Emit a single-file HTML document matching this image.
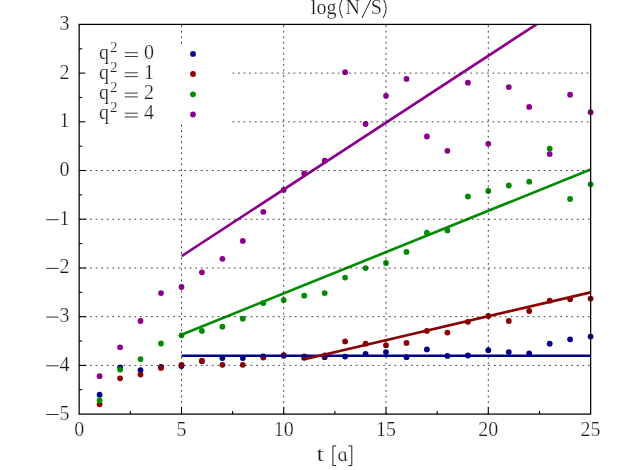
<!DOCTYPE html>
<html><head><meta charset="utf-8"><title>log(N/S)</title>
<style>html,body{margin:0;padding:0;background:#fff;}svg{display:block;}text{font-family:"Liberation Serif",serif;fill:#1c1c1c;stroke:#fff;stroke-width:0.22px;}</style></head>
<body>
<svg width="627" height="470" viewBox="0 0 627 470">
<rect x="0" y="0" width="627" height="470" fill="#ffffff"/>
<defs><clipPath id="cp"><rect x="79.15" y="24.4" width="511.5" height="389.7"/></clipPath></defs>
<g fill="#00008b"><circle cx="99.6" cy="394.7" r="2.9"/><circle cx="120.1" cy="367.3" r="2.9"/><circle cx="140.5" cy="370.1" r="2.9"/><circle cx="161.0" cy="366.9" r="2.9"/><circle cx="181.5" cy="366.0" r="2.9"/><circle cx="201.9" cy="361.0" r="2.9"/><circle cx="222.4" cy="358.0" r="2.9"/><circle cx="242.8" cy="358.0" r="2.9"/><circle cx="263.3" cy="356.4" r="2.9"/><circle cx="283.7" cy="355.7" r="2.9"/><circle cx="304.2" cy="357.8" r="2.9"/><circle cx="324.7" cy="357.2" r="2.9"/><circle cx="345.1" cy="356.6" r="2.9"/><circle cx="365.6" cy="354.0" r="2.9"/><circle cx="386.0" cy="352.1" r="2.9"/><circle cx="406.5" cy="357.2" r="2.9"/><circle cx="426.9" cy="349.4" r="2.9"/><circle cx="447.4" cy="355.9" r="2.9"/><circle cx="467.9" cy="355.5" r="2.9"/><circle cx="488.3" cy="350.2" r="2.9"/><circle cx="508.8" cy="352.1" r="2.9"/><circle cx="529.2" cy="353.4" r="2.9"/><circle cx="549.7" cy="343.7" r="2.9"/><circle cx="570.1" cy="339.3" r="2.9"/><circle cx="590.6" cy="336.6" r="2.9"/></g>
<g fill="#8b0000"><circle cx="99.6" cy="404.3" r="2.9"/><circle cx="120.1" cy="378.3" r="2.9"/><circle cx="140.5" cy="374.6" r="2.9"/><circle cx="161.0" cy="367.9" r="2.9"/><circle cx="181.5" cy="364.8" r="2.9"/><circle cx="201.9" cy="361.0" r="2.9"/><circle cx="222.4" cy="364.8" r="2.9"/><circle cx="242.8" cy="364.8" r="2.9"/><circle cx="263.3" cy="357.6" r="2.9"/><circle cx="283.7" cy="355.1" r="2.9"/><circle cx="304.2" cy="356.4" r="2.9"/><circle cx="324.7" cy="355.5" r="2.9"/><circle cx="345.1" cy="341.4" r="2.9"/><circle cx="365.6" cy="343.7" r="2.9"/><circle cx="386.0" cy="345.2" r="2.9"/><circle cx="406.5" cy="342.9" r="2.9"/><circle cx="426.9" cy="330.9" r="2.9"/><circle cx="447.4" cy="332.6" r="2.9"/><circle cx="467.9" cy="321.8" r="2.9"/><circle cx="488.3" cy="315.9" r="2.9"/><circle cx="508.8" cy="321.0" r="2.9"/><circle cx="529.2" cy="311.0" r="2.9"/><circle cx="549.7" cy="300.7" r="2.9"/><circle cx="570.1" cy="299.2" r="2.9"/><circle cx="590.6" cy="298.6" r="2.9"/></g>
<g fill="#008b00"><circle cx="99.6" cy="400.4" r="2.9"/><circle cx="120.1" cy="369.6" r="2.9"/><circle cx="140.5" cy="359.1" r="2.9"/><circle cx="161.0" cy="343.5" r="2.9"/><circle cx="181.5" cy="335.3" r="2.9"/><circle cx="201.9" cy="330.9" r="2.9"/><circle cx="222.4" cy="326.7" r="2.9"/><circle cx="242.8" cy="318.7" r="2.9"/><circle cx="263.3" cy="303.0" r="2.9"/><circle cx="283.7" cy="300.1" r="2.9"/><circle cx="304.2" cy="295.7" r="2.9"/><circle cx="324.7" cy="293.1" r="2.9"/><circle cx="345.1" cy="277.6" r="2.9"/><circle cx="365.6" cy="268.1" r="2.9"/><circle cx="386.0" cy="263.0" r="2.9"/><circle cx="406.5" cy="251.9" r="2.9"/><circle cx="426.9" cy="232.7" r="2.9"/><circle cx="447.4" cy="230.4" r="2.9"/><circle cx="467.9" cy="196.5" r="2.9"/><circle cx="488.3" cy="191.0" r="2.9"/><circle cx="508.8" cy="185.5" r="2.9"/><circle cx="529.2" cy="181.7" r="2.9"/><circle cx="549.7" cy="148.7" r="2.9"/><circle cx="570.1" cy="199.0" r="2.9"/><circle cx="590.6" cy="184.3" r="2.9"/></g>
<g fill="#8b008b"><circle cx="99.6" cy="376.2" r="2.9"/><circle cx="120.1" cy="347.3" r="2.9"/><circle cx="140.5" cy="321.0" r="2.9"/><circle cx="161.0" cy="293.1" r="2.9"/><circle cx="181.5" cy="287.0" r="2.9"/><circle cx="201.9" cy="272.3" r="2.9"/><circle cx="222.4" cy="258.8" r="2.9"/><circle cx="242.8" cy="240.9" r="2.9"/><circle cx="263.3" cy="211.8" r="2.9"/><circle cx="283.7" cy="189.9" r="2.9"/><circle cx="304.2" cy="173.4" r="2.9"/><circle cx="324.7" cy="160.7" r="2.9"/><circle cx="345.1" cy="72.2" r="2.9"/><circle cx="365.6" cy="124.0" r="2.9"/><circle cx="386.0" cy="95.8" r="2.9"/><circle cx="406.5" cy="78.9" r="2.9"/><circle cx="426.9" cy="136.5" r="2.9"/><circle cx="447.4" cy="150.8" r="2.9"/><circle cx="467.9" cy="82.7" r="2.9"/><circle cx="488.3" cy="143.8" r="2.9"/><circle cx="508.8" cy="87.1" r="2.9"/><circle cx="529.2" cy="106.9" r="2.9"/><circle cx="549.7" cy="154.1" r="2.9"/><circle cx="570.1" cy="94.7" r="2.9"/><circle cx="590.6" cy="112.2" r="2.9"/></g>
<g clip-path="url(#cp)" fill="none" stroke-width="2.65">
<line x1="181.5" y1="355.75" x2="590.6" y2="355.75" stroke="#00008b"/>
<line x1="305.6" y1="358.98" x2="590.6" y2="292.4" stroke="#8b0000"/>
<line x1="181.5" y1="334.7" x2="590.6" y2="169.5" stroke="#008b00"/>
<line x1="181.7" y1="256.02" x2="590.6" y2="-11.0" stroke="#8b008b"/>
</g>
<g fill="none" stroke="#000" stroke-opacity="0.76" stroke-width="1.0" stroke-dasharray="1.8 3.731">
<line x1="181.5" y1="414.1" x2="181.5" y2="124.2" stroke-dasharray="1.8 3.729" stroke-dashoffset="-0.04"/><line x1="181.5" y1="44.3" x2="181.5" y2="24.4" stroke-dasharray="1.8 3.729" stroke-dashoffset="4.85"/>
<line x1="283.7" y1="414.1" x2="283.7" y2="24.4" stroke-dasharray="1.8 3.729" stroke-dashoffset="-0.04"/>
<line x1="386.0" y1="414.1" x2="386.0" y2="24.4" stroke-dasharray="1.8 3.729" stroke-dashoffset="-0.04"/>
<line x1="488.3" y1="414.1" x2="488.3" y2="24.4" stroke-dasharray="1.8 3.729" stroke-dashoffset="-0.04"/>
<line x1="79.1" y1="365.39" x2="590.6" y2="365.39" stroke-dashoffset="0" stroke-opacity="0.72"/>
<line x1="79.1" y1="316.68" x2="590.6" y2="316.68" stroke-dashoffset="0" stroke-opacity="0.72"/>
<line x1="79.1" y1="267.96" x2="590.6" y2="267.96" stroke-dashoffset="0" stroke-opacity="0.72"/>
<line x1="79.1" y1="219.25" x2="590.6" y2="219.25" stroke-dashoffset="0" stroke-opacity="0.72"/>
<line x1="79.1" y1="170.54" x2="590.6" y2="170.54" stroke-dashoffset="0" stroke-opacity="0.72"/>
<line x1="232.6" y1="121.82" x2="590.6" y2="121.82" stroke-dashoffset="0" stroke-opacity="0.72"/>
<line x1="232.6" y1="73.11" x2="590.6" y2="73.11" stroke-dashoffset="0" stroke-opacity="0.72"/>
</g>
<g fill="none" stroke="#000" stroke-width="1.25">
<rect x="79.15" y="24.4" width="511.5" height="389.7"/>
</g>
<g fill="none" stroke="#000" stroke-width="1.1">
<line x1="79.15" y1="389.7" x2="82.2" y2="389.7"/><line x1="79.15" y1="365.4" x2="86.1" y2="365.4"/><line x1="79.15" y1="341.0" x2="82.2" y2="341.0"/><line x1="79.15" y1="316.7" x2="86.1" y2="316.7"/><line x1="79.15" y1="292.3" x2="82.2" y2="292.3"/><line x1="79.15" y1="268.0" x2="86.1" y2="268.0"/><line x1="79.15" y1="243.6" x2="82.2" y2="243.6"/><line x1="79.15" y1="219.2" x2="86.1" y2="219.2"/><line x1="79.15" y1="194.9" x2="82.2" y2="194.9"/><line x1="79.15" y1="170.5" x2="86.1" y2="170.5"/><line x1="79.15" y1="146.2" x2="82.2" y2="146.2"/><line x1="79.15" y1="121.8" x2="85.2" y2="121.8"/><line x1="79.15" y1="97.5" x2="82.2" y2="97.5"/><line x1="79.15" y1="73.1" x2="85.2" y2="73.1"/><line x1="79.15" y1="48.8" x2="82.2" y2="48.8"/>
<line x1="130.3" y1="414.1" x2="130.3" y2="411.1"/><line x1="181.5" y1="414.1" x2="181.5" y2="407.2"/><line x1="232.6" y1="414.1" x2="232.6" y2="411.1"/><line x1="283.7" y1="414.1" x2="283.7" y2="407.2"/><line x1="334.9" y1="414.1" x2="334.9" y2="411.1"/><line x1="386.0" y1="414.1" x2="386.0" y2="407.2"/><line x1="437.2" y1="414.1" x2="437.2" y2="411.1"/><line x1="488.3" y1="414.1" x2="488.3" y2="407.2"/><line x1="539.5" y1="414.1" x2="539.5" y2="411.1"/>
</g>
<circle cx="193.0" cy="53.9" r="2.9" fill="#00008b"/><circle cx="193.0" cy="74.0" r="2.9" fill="#8b0000"/><circle cx="193.0" cy="94.3" r="2.9" fill="#008b00"/><circle cx="193.0" cy="114.4" r="2.9" fill="#8b008b"/>
<g font-size="20" style="filter:grayscale(1)">
<text x="69.4" y="419.5" text-anchor="end">5</text><line x1="46.2" y1="414.5" x2="58.6" y2="414.5" stroke="#1c1c1c" stroke-width="0.9"/><text x="69.4" y="370.8" text-anchor="end">4</text><line x1="46.2" y1="365.8" x2="58.6" y2="365.8" stroke="#1c1c1c" stroke-width="0.9"/><text x="69.4" y="322.1" text-anchor="end">3</text><line x1="46.2" y1="317.1" x2="58.6" y2="317.1" stroke="#1c1c1c" stroke-width="0.9"/><text x="69.4" y="273.4" text-anchor="end">2</text><line x1="46.2" y1="268.4" x2="58.6" y2="268.4" stroke="#1c1c1c" stroke-width="0.9"/><text x="69.4" y="224.7" text-anchor="end">1</text><line x1="46.2" y1="219.7" x2="58.6" y2="219.7" stroke="#1c1c1c" stroke-width="0.9"/><text x="69.4" y="175.9" text-anchor="end">0</text><text x="69.4" y="127.2" text-anchor="end">1</text><text x="69.4" y="78.5" text-anchor="end">2</text><text x="69.4" y="29.8" text-anchor="end">3</text>
<text x="79.2" y="435.9" text-anchor="middle">0</text><text x="181.5" y="435.9" text-anchor="middle">5</text><text x="283.7" y="435.9" text-anchor="middle">10</text><text x="386.0" y="435.9" text-anchor="middle">15</text><text x="488.3" y="435.9" text-anchor="middle">20</text><text x="590.6" y="435.9" text-anchor="middle">25</text>
<text x="99.0" y="58.8">q</text><text x="110.1" y="51.7" font-size="15.2">2</text><line x1="124.8" y1="52.7" x2="137.9" y2="52.7" stroke="#1c1c1c" stroke-width="0.85"/><line x1="124.8" y1="56.5" x2="137.9" y2="56.5" stroke="#1c1c1c" stroke-width="0.85"/><text x="143.9" y="58.8">0</text>
<text x="99.0" y="78.9">q</text><text x="110.1" y="71.8" font-size="15.2">2</text><line x1="124.8" y1="72.8" x2="137.9" y2="72.8" stroke="#1c1c1c" stroke-width="0.85"/><line x1="124.8" y1="76.6" x2="137.9" y2="76.6" stroke="#1c1c1c" stroke-width="0.85"/><text x="143.9" y="78.9">1</text>
<text x="99.0" y="99.2">q</text><text x="110.1" y="92.1" font-size="15.2">2</text><line x1="124.8" y1="93.1" x2="137.9" y2="93.1" stroke="#1c1c1c" stroke-width="0.85"/><line x1="124.8" y1="96.9" x2="137.9" y2="96.9" stroke="#1c1c1c" stroke-width="0.85"/><text x="143.9" y="99.2">2</text>
<text x="99.0" y="119.3">q</text><text x="110.1" y="112.2" font-size="15.2">2</text><line x1="124.8" y1="113.2" x2="137.9" y2="113.2" stroke="#1c1c1c" stroke-width="0.85"/><line x1="124.8" y1="117.0" x2="137.9" y2="117.0" stroke="#1c1c1c" stroke-width="0.85"/><text x="143.9" y="119.3">4</text>
<text x="310.8" y="13.7">l</text><text x="316.6" y="13.7">o</text><text x="326.5" y="13.7">g</text><text x="345.5" y="13.7">N</text><text x="370.8" y="13.7">S</text><g fill="none" stroke="#1c1c1c" stroke-width="1.0"><line x1="362.0" y1="18.0" x2="371.2" y2="-1.0"/><path d="M342.6,-1.2 Q336.6,8.4 342.6,18.0"/><path d="M383.2,-1.2 Q389.2,8.4 383.2,18.0"/></g>
<text transform="translate(316.4,461) scale(1.35,1)">t</text><text font-style="italic" transform="translate(338.6,461) skewX(14) scale(1.04,1)">a</text><g fill="none" stroke="#1c1c1c" stroke-width="1.0"><path d="M336.2,445.9 H332.9 V465.6 H336.2"/><path d="M348.5,445.9 H351.8 V465.6 H348.5"/></g>
</g>
</svg>
</body></html>
